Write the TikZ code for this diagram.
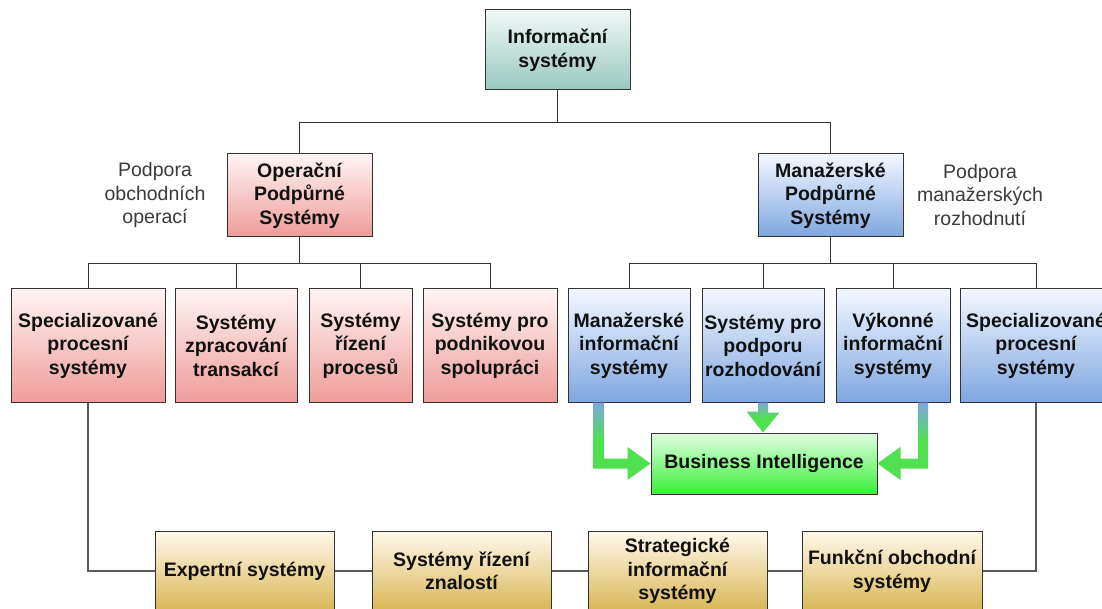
\documentclass[tikz,border=0pt]{standalone}
\usepackage{fontspec}
\setmainfont{Liberation Sans}
\usetikzlibrary{calc}
\definecolor{edgegray}{HTML}{333333}
\definecolor{linegray}{HTML}{5A5A5A}
\definecolor{txt}{HTML}{111111}
\definecolor{notetxt}{HTML}{3A3A3A}
\definecolor{tealtop}{HTML}{F0F8F6}
\definecolor{tealbot}{HTML}{9AC7BF}
\definecolor{redtop}{HTML}{FFF4F4}
\definecolor{redbot}{HTML}{EE9C9A}
\definecolor{bluetop}{HTML}{F4F8FF}
\definecolor{bluebot}{HTML}{7EA6E0}
\definecolor{goldtop}{HTML}{FFF9EC}
\definecolor{goldbot}{HTML}{D9B654}
\definecolor{greentop}{HTML}{E2FFE2}
\definecolor{greenbot}{HTML}{38EE38}
\definecolor{arrowtop}{HTML}{7EA6E0}
\definecolor{arrowgreen}{HTML}{4EE04E}
\begin{document}
\begin{tikzpicture}[x=1pt,y=-1pt,
  box/.style={draw=edgegray, line width=1pt, align=center, text=txt,
    font=\fontsize{19.5}{23.5}\selectfont\bfseries, inner sep=2pt},
  tealbox/.style={box, top color=tealtop, bottom color=tealbot},
  redbox/.style={box, top color=redtop, bottom color=redbot},
  bluebox/.style={box, top color=bluetop, bottom color=bluebot},
  goldbox/.style={box, top color=goldtop, bottom color=goldbot},
  greenbox/.style={box, top color=greentop, bottom color=greenbot},
  note/.style={align=center, text=notetxt, font=\fontsize{19.5}{23.5}\selectfont},
  link/.style={draw=edgegray, line width=1pt},
  lowlink/.style={draw=linegray, line width=1.3pt},
  fatarrow/.style={top color=arrowtop, bottom color=arrowgreen, middle color=arrowgreen}
]
\useasboundingbox (0,0) rectangle (1102,609);
\clip (0,0) rectangle (1102,609);

% top level
\node[tealbox, minimum width=145pt, minimum height=80pt] (info) at (557.5,50) {Informační\\systémy};

% second level
\node[redbox, minimum width=145pt, minimum height=83pt] (ops) at (299.5,195.5) {Operační\\Podpůrné\\Systémy};
\node[bluebox, minimum width=145pt, minimum height=83pt] (man) at (830.5,195.5) {Manažerské\\Podpůrné\\Systémy};

\node[note] (opsnote) at (155,195) {Podpora\\obchodních\\operací};
\node[note] (mannote) at (980,195) {Podpora\\manažerských\\rozhodnutí};

% operational systems
\node[redbox, minimum width=154pt, minimum height=113pt] (l1) at (88,345.5) {Specializované\\procesní\\systémy};
\node[redbox, minimum width=122pt, minimum height=113pt] (l2) at (236,345.5) {Systémy\\zpracování\\transakcí};
\node[redbox, minimum width=103pt, minimum height=113pt] (l3) at (360.5,345.5) {Systémy\\řízení\\procesů};
\node[redbox, minimum width=134pt, minimum height=113pt] (l4) at (490,345.5) {Systémy pro\\podnikovou\\spolupráci};

% management systems
\node[bluebox, minimum width=122pt, minimum height=113pt] (r1) at (629,345.5) {Manažerské\\informační\\systémy};
\node[bluebox, minimum width=122pt, minimum height=113pt] (r2) at (763,345.5) {Systémy pro\\podporu\\rozhodování};
\node[bluebox, minimum width=114pt, minimum height=113pt] (r3) at (893,345.5) {Výkonné\\informační\\systémy};
\node[bluebox, minimum width=152pt, minimum height=113pt] (r4) at (1036,345.5) {Specializované\\procesní\\systémy};

% business intelligence
\node[greenbox, minimum width=226pt, minimum height=61pt] (bi) at (764,463.5) {Business Intelligence};

% bottom row
\node[goldbox, minimum width=179pt, minimum height=80pt] (b1) at (244.5,571) {Expertní systémy};
\node[goldbox, minimum width=179pt, minimum height=80pt] (b2) at (461.5,571) {Systémy řízení\\znalostí};
\node[goldbox, minimum width=179pt, minimum height=80pt] (b3) at (677.5,571) {Strategické\\informační\\systémy};
\node[goldbox, minimum width=180pt, minimum height=80pt] (b4) at (892,571) {Funkční obchodní\\systémy};

% tree connectors
\draw[link] (info.south) -- ++(0,32) -| (ops.north);
\draw[link] (info.south) -- ++(0,32) -| (man.north);
\foreach \c in {l1,l2,l3,l4}
  \draw[link] (ops.south) -- ++(0,26) -| (\c.north);
\foreach \c in {r1,r2,r3,r4}
  \draw[link] (man.south) -- ++(0,26) -| (\c.north);

% bottom chain
\draw[lowlink] (l1.south) |- (b1.west);
\draw[lowlink] (b1.east) -- (b2.west);
\draw[lowlink] (b2.east) -- (b3.west);
\draw[lowlink] (b3.east) -- (b4.west);
\draw[lowlink] (r4.south) |- (b4.east);

% wide arrows into business intelligence
\shade[fatarrow] ($(r1.south)+(-36,0)$) -- ++(11,0) |- ($(bi.west)+(-23,-5)$)
  -- ++(0,-11.5) -- (bi.west) -- ($(bi.west)+(-23,16.5)$) -- ++(0,-11.5)
  -| ($(r1.south)+(-36,0)$) -- cycle;
\shade[fatarrow] ($(r2.south)+(-5,0)$) -- ++(10,0) -- ++(0,10) -- ++(11.5,0)
  -- (r2.south |- bi.north) -- ++(-16.5,-21) -- ++(11.5,0) -- cycle;
\shade[fatarrow] ($(r3.south)+(35,0)$) -- ++(-10,0) |- ($(bi.east)+(23,-5)$)
  -- ++(0,-11.5) -- (bi.east) -- ($(bi.east)+(23,16.5)$) -- ++(0,-11.5)
  -| ($(r3.south)+(35,0)$) -- cycle;
\end{tikzpicture}
\end{document}
